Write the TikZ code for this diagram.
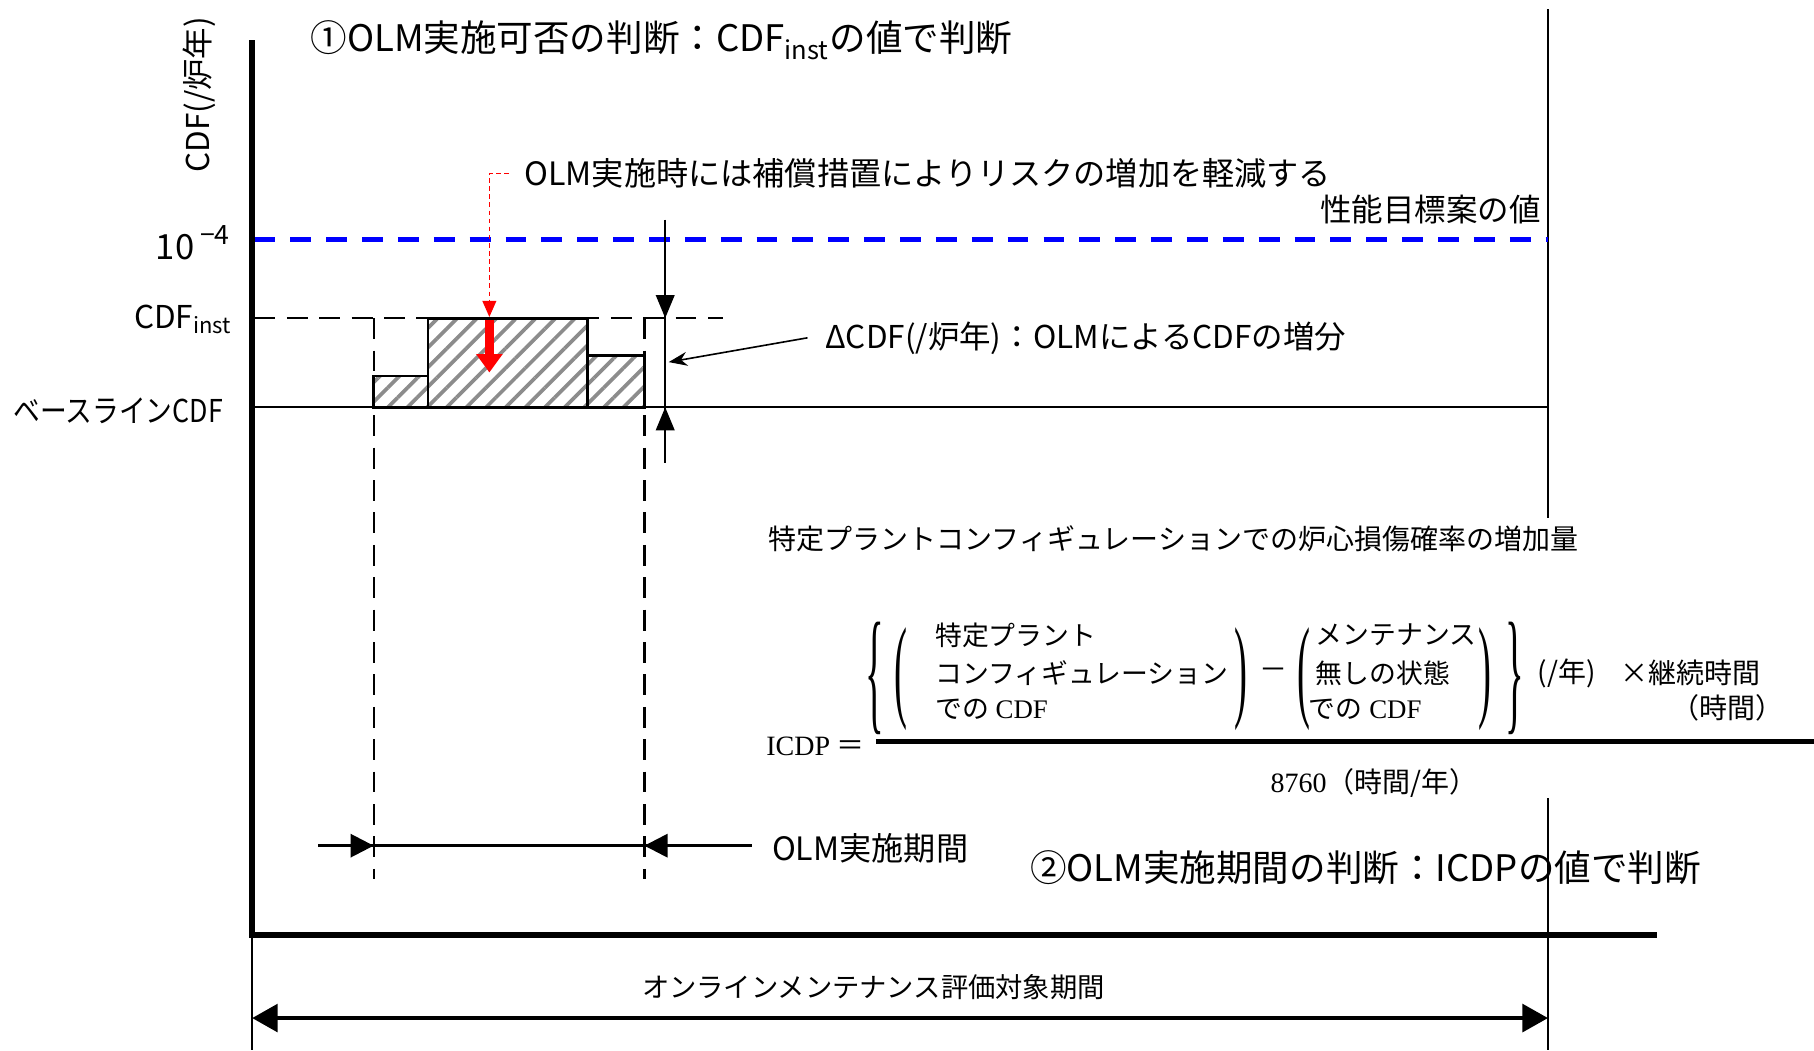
\documentclass[tikz,border=0pt]{standalone}
\usepackage{fontspec}
\setmainfont{Noto Sans CJK JP}
\newfontfamily\serifl{Liberation Serif}
\usetikzlibrary{arrows.meta,patterns.meta}
\definecolor{tblue}{RGB}{0,0,255}
\definecolor{tred}{RGB}{255,0,0}
\tikzset{
  axisline/.style={line width=2.6pt},
  thinln/.style={line width=1pt},
  dashln/.style={line width=1pt, dash pattern=on 9pt off 5pt},
  targetln/.style={line width=2pt, draw=tblue, dash pattern=on 9pt off 6.5pt},
  hatchbox/.style={line width=1.2pt, pattern={Lines[angle=45,distance=6pt,line width=1.6pt]}, pattern color=black!45},
  tipA/.style={-{Triangle[length=10pt,width=8pt]}},
  lbl/.style={inner sep=0pt},
  big/.style={lbl, font=\fontsize{15.8}{18}\selectfont},
  mid/.style={lbl, font=\fontsize{13.6}{16}\selectfont},
  sml/.style={lbl, font=\fontsize{11.8}{14}\selectfont},
  frm/.style={lbl, font=\fontsize{12.1}{14}\selectfont},
  frmin/.style={lbl, font=\fontsize{11.6}{14}\selectfont},
  dlm/.style={lbl, font=\serifl\fontsize{12}{14}\selectfont},
}
\newcommand{\parenglyph}[1]{\scalebox{1.4}[4.1]{#1}}
\newcommand{\braceglyph}[1]{\scalebox{1.4}[4.9]{#1}}
\begin{document}
\begin{tikzpicture}[x=0.5pt,y=-0.5pt]
\useasboundingbox (0,0) rectangle (1568,908);
% ---- coordinates
\coordinate (yTop) at (218,35);
\coordinate (orig) at (218,808);
\coordinate (xEnd) at (1432,808);
\coordinate (lowL) at (218,908);
\coordinate (rTop) at (1338,8);
\coordinate (rMidA) at (1338,448);
\coordinate (rMidB) at (1338,690);
\coordinate (rBot) at (1338,908);
\coordinate (tgtL) at (220,207);
\coordinate (tgtR) at (1338,207);
\coordinate (baseL) at (220,352);
\coordinate (baseR) at (1338,352);
\coordinate (instL) at (220,275);
\coordinate (instR) at (625,275);
\coordinate (dlTop) at (323,275);
\coordinate (dlBot) at (323,760);
\coordinate (drTop) at (557,275);
\coordinate (drBot) at (557,760);
\coordinate (vTop) at (575,190);
\coordinate (vInst) at (575,275);
\coordinate (vBase) at (575,352);
\coordinate (vBot) at (575,400);
\coordinate (dTip) at (578,313);
\coordinate (dTail) at (698,292);
\coordinate (pL) at (275,731);
\coordinate (pA) at (323,731);
\coordinate (pB) at (557,731);
\coordinate (pR) at (650,731);
\coordinate (eL) at (218,880);
\coordinate (eR) at (1338,880);
\coordinate (rdA) at (440,150);
\coordinate (rdB) at (423,150);
\coordinate (rdC) at (423,274);
\coordinate (raA) at (423,277);
\coordinate (raB) at (423,322);
\coordinate (fbL) at (757,641);
\coordinate (fbR) at (1568,641);

% ---- axes and frame lines
\draw[axisline] (yTop) -- (orig) -- (xEnd);
\draw[thinln] (orig) -- (lowL);
\draw[thinln] (rTop) -- (rMidA);
\draw[thinln] (rMidB) -- (rBot);

% ---- levels
\draw[targetln] (tgtL) -- (tgtR);
\draw[thinln] (baseL) -- (baseR);
\draw[dashln] (instL) -- (instR);

% ---- hatched boxes
\draw[hatchbox] (323,325) rectangle (370,352);
\draw[hatchbox] (370,275) rectangle (508,352);
\draw[hatchbox] (508,307) rectangle (557,352);

% ---- dashed verticals
\draw[dashln] (dlTop) -- (dlBot);
\draw[dashln] (drTop) -- (drBot);

% ---- delta CDF arrows
\draw[thinln] (vTop) -- (vBot);
\draw[thinln,tipA] (vTop) -- (vInst);
\draw[thinln,tipA] (vBot) -- (vBase);
\draw[line width=0.7pt,-{Stealth[length=8pt,width=6pt]}] (dTail) -- (dTip);

% ---- red annotation
\draw[tred,line width=0.6pt,dash pattern=on 2pt off 1.5pt,-{Triangle[length=7pt,width=6pt]}] (rdA) -- (rdB) -- (rdC);
\draw[tred,line width=4pt,-{Triangle[length=8pt,width=11pt]}] (raA) -- (raB);

% ---- OLM period arrow
\draw[line width=1.2pt] (pL) -- (pR);
\draw[line width=1.2pt,-{Triangle[length=10pt,width=10pt]}] (pL) -- (pA);
\draw[line width=1.2pt,-{Triangle[length=10pt,width=10pt]}] (pR) -- (pB);

% ---- evaluation period arrow
\draw[line width=1.5pt,{Triangle[length=11pt,width=12pt]}-{Triangle[length=11pt,width=12pt]}] (eL) -- (eR);

% ---- labels
\node[big,anchor=west] (title1) at (268,35) {①OLM実施可否の判断：CDF\textsubscript{inst}の値で判断};
\node[mid,rotate=90] (ylab) at (172,82) {CDF(/炉年)};
\node[lbl,anchor=east,font=\fontsize{15}{17}\selectfont] (l104) at (199,210) {10\,\raisebox{0.8ex}{\fontsize{11.5}{13}\selectfont −4}};
\node[mid,anchor=east] (linst) at (201,276) {CDF\textsubscript{inst}};
\node[mid,anchor=east] (lbase) at (193,355) {\scalebox{0.85}[1]{ベースラインCDF}};
\node[lbl,anchor=west,font=\fontsize{13.9}{16}\selectfont] (redlbl) at (453,150) {OLM実施時には補償措置によりリスクの増加を軽減する};
\node[mid,anchor=east] (tgtlbl) at (1332,181) {性能目標案の値};
\node[mid,anchor=west] (dlbl) at (713,292) {ΔCDF(/炉年)：OLMによるCDFの増分};
\node[lbl,anchor=west,font=\fontsize{13.9}{16}\selectfont] (plbl) at (667,733) {OLM実施期間};
\node[big,anchor=west] (title2) at (890,750) {②OLM実施期間の判断：ICDPの値で判断};
\node[sml] (elbl) at (755,853) {オンラインメンテナンス評価対象期間};

% ---- formula
\node[frm,anchor=west] (fhead) at (664,466) {特定プラントコンフィギュレーションでの炉心損傷確率の増加量};
\node[dlm] (brL) at (756,586) {\braceglyph{\{}};
\node[dlm] (p1L) at (779,587) {\parenglyph{(}};
\node[frmin,anchor=west] (a1) at (808,549) {特定プラント};
\node[frmin,anchor=west] (a2) at (808,582) {コンフィギュレーション};
\node[frmin,anchor=west] (a3) at (808,613) {での{\serifl\ CDF}};
\node[dlm] (p1R) at (1073,587) {\parenglyph{)}};
\node[frm] (minus) at (1101,582) {－};
\node[dlm] (p2L) at (1127,587) {\parenglyph{(}};
\node[frmin,anchor=west] (b1) at (1137,549) {メンテナンス};
\node[frmin,anchor=west] (b2) at (1137,582) {無しの状態};
\node[frmin,anchor=west] (b3) at (1131,613) {での{\serifl\ CDF}};
\node[dlm] (p2R) at (1284,587) {\parenglyph{)}};
\node[dlm] (brR) at (1309,586) {\braceglyph{\}}};
\node[frm,anchor=west] (perY) at (1329,582) {(/年)};
\node[frm,anchor=west] (dur) at (1400,582) {×継続時間};
\node[frm,anchor=east] (hrs) at (1542,612) {（時間）};
\node[frm,anchor=west] (icdp) at (662,645) {{\serifl ICDP} ＝};
\draw[line width=2pt] (fbL) -- (fbR);
\node[frm,anchor=west] (den) at (1098,677) {{\serifl 8760}（時間/年）};
\end{tikzpicture}
\end{document}
